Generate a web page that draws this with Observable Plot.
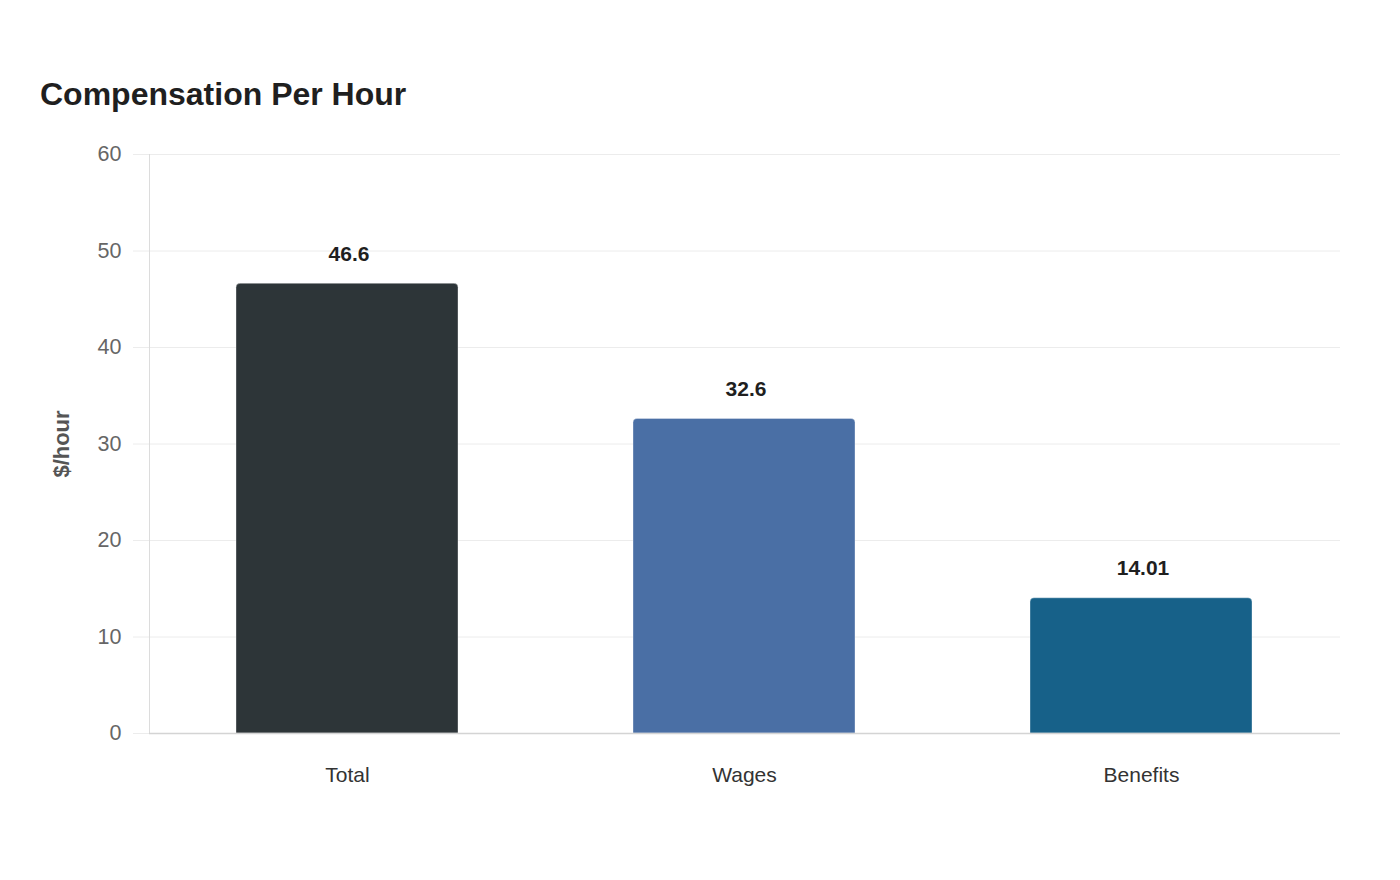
<!DOCTYPE html>
<html>
<head>
<meta charset="utf-8">
<script src="https://cdn.jsdelivr.net/npm/d3@7"></script>
<script src="https://cdn.jsdelivr.net/npm/@observablehq/plot@0.6"></script>
<style>
  html, body { margin: 0; padding: 0; background: #fff; }
  body { width: 1400px; height: 880px; overflow: hidden; font-family: "Liberation Sans", Arial, sans-serif; }
  #head { position: relative; height: 120px; }
  #title { position: absolute; left: 40px; top: 78px; font-size: 32px; line-height: 32px; font-weight: bold; color: #1f1f1f; white-space: nowrap; }
</style>
</head>
<body>
<div id="head"><div id="title">Compensation Per Hour</div></div>
<div id="chart"></div>
<script>
const categories = ["Total", "Wages", "Benefits"];
const values = [46.6, 32.6, 14.01];
const labels = ["46.6", "32.6", "14.01"];
const colors = ["#2d3538", "#4a6fa5", "#176189"];
const yTicks = [0, 10, 20, 30, 40, 50, 60];

const data = categories.map((c, i) => ({category: c, value: values[i], label: labels[i]}));

const chart = Plot.plot({
  width: 1400,
  height: 760,
  marginTop: 34,
  marginBottom: 147,
  marginLeft: 149,
  marginRight: 60,
  style: {fontFamily: "'Liberation Sans', Arial, sans-serif", background: "#fff"},
  x: {domain: categories, paddingInner: 0.44, paddingOuter: 0.22, label: null},
  y: {domain: [0, 60], ticks: yTicks, label: "$/hour"},
  color: {domain: categories, range: colors},
  marks: [
    Plot.gridY(yTicks, {stroke: "#ececec", strokeOpacity: 1}),
    Plot.axisY(yTicks, {tickSize: 16, stroke: "#ececec", strokeOpacity: 1, fill: "#666", tickPadding: 12, fontSize: 21.5, label: null}),
    Plot.axisY({ticks: [], tickSize: 0, label: "$/hour", labelAnchor: "center", labelOffset: 96, fontSize: 22, fontWeight: "bold", fill: "#555", labelArrow: "none"}),
    Plot.axisX({tickSize: 0, tickPadding: 34, fontSize: 21, fill: "#333", label: null}),
    Plot.frame({anchor: "left", stroke: "#dcdcdc"}),
    Plot.barY(data, {x: "category", y: "value", fill: "category", ry1: 4, stroke: "#fff", strokeOpacity: 0.35, strokeWidth: 1}),
    Plot.ruleY([0], {stroke: "#d4d4d4", strokeWidth: 1.5}),
    Plot.text(data, {x: "category", y: "value", text: "label", dy: -30, dx: 1.5, fontSize: 21, fontWeight: "bold", fill: "#1f1f1f"})
  ]
});
document.getElementById("chart").appendChild(chart);
</script>
</body>
</html>
